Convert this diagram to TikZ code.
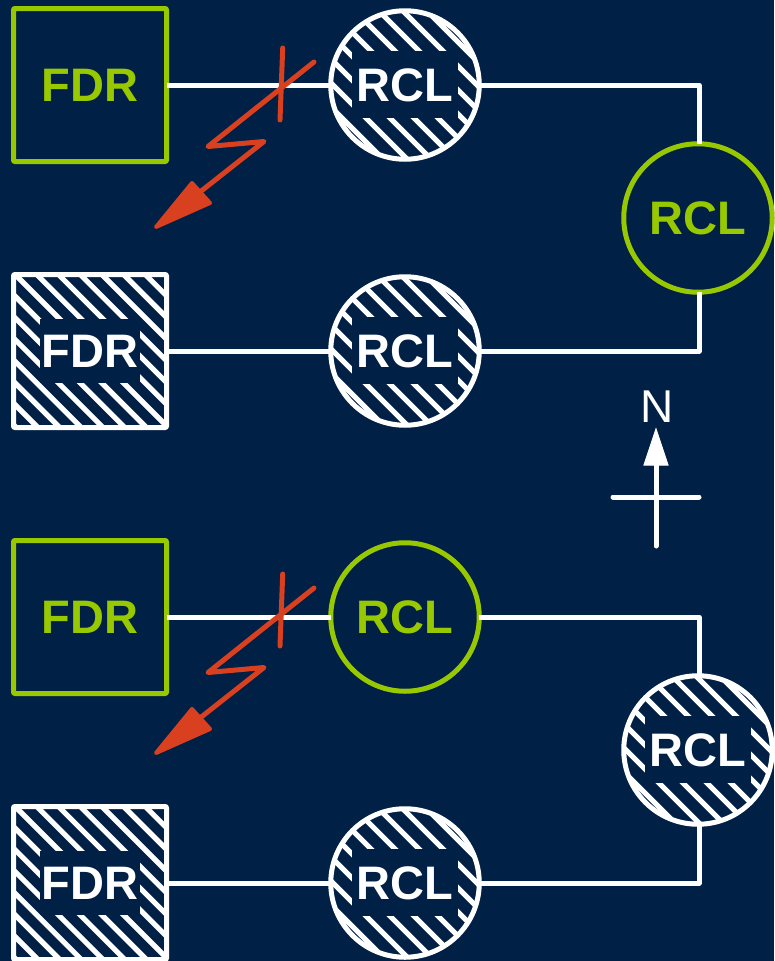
\documentclass[tikz,border=0pt]{standalone}
\usepackage{fontspec}
\setmainfont{Liberation Sans}
\definecolor{bgnavy}{HTML}{002045}
\definecolor{limeg}{HTML}{97C800}
\definecolor{boltred}{HTML}{D9401F}
\tikzset{
  x=1pt,y=-1pt,
  labelfont/.style={font=\fontsize{47}{47}\selectfont\bfseries},
  basenode/.style={line width=5pt,inner sep=0pt,outer sep=0pt,labelfont,line join=round},
  sqbox/.style={basenode,rectangle,rounded corners=1pt,minimum width=153pt,minimum height=153pt},
  circ/.style={basenode,circle,minimum size=148.5pt},
  greennode/.style={draw=limeg,text=limeg},
  hatchedge/.style={draw=white,text=white},
  stripe/.style={white,line width=5.2pt},
  wire/.style={white,line width=5pt,line join=round},
  bolt/.style={boltred,line width=5pt,line cap=round,line join=round},
  bolthead/.style={boltred,fill=boltred,line width=4pt,line join=round},
  northline/.style={white,line width=5pt,line cap=round},
  northhead/.style={white,fill=white,line width=1pt,line join=miter},
}
\newcommand{\sqhatch}[1]{%
  \begin{scope}[shift={(#1)}]
    \clip (-76.5,-76.5) rectangle (76.5,76.5);
    \foreach \k in {-8,...,8}{
      \draw[stripe] ({\k*21.7+1.6-120},-120) -- ({\k*21.7+1.6+120},120);}
    \fill[bgnavy] (-50,-32) rectangle (50,32);
  \end{scope}}
\newcommand{\cirhatch}[1]{%
  \begin{scope}[shift={(#1)}]
    \clip (0,0) circle (74.5);
    \foreach \k in {-7,...,7}{
      \draw[stripe] ({\k*24-120},-120) -- ({\k*24+120},120);}
    \fill[bgnavy] (-53,-34) rectangle (53,33);
  \end{scope}}
\begin{document}
\begin{tikzpicture}
\fill[bgnavy] (0,0) rectangle (774,961);
\useasboundingbox (0,0) rectangle (774,961);

% upper network
\coordinate (pr1) at (405,85);
\coordinate (pr3) at (405,351);
\coordinate (pf2) at (90,351);
\cirhatch{pr1}
\cirhatch{pr3}
\sqhatch{pf2}
\node[sqbox,greennode] (f1) at (90,85) {FDR};
\node[circ,hatchedge] (r1) at (pr1) {RCL};
\node[circ,greennode] (r2) at (698,218) {RCL};
\node[circ,hatchedge] (r3) at (pr3) {RCL};
\node[sqbox,hatchedge] (f2) at (pf2) {FDR};
\coordinate (c1) at (699,85);
\coordinate (c2) at (699,351);
\draw[wire] (f1.east) -- (r1.west);
\draw[wire] (r1.east) -- (c1) -- (c1 |- r2.north);
\draw[wire] (c2 |- r2.south) -- (c2) -- (r3.east);
\draw[wire] (f2.east) -- (r3.west);

% lower network
\coordinate (pr5) at (698,750);
\coordinate (pr6) at (405,883);
\coordinate (pf4) at (90,883);
\cirhatch{pr5}
\cirhatch{pr6}
\sqhatch{pf4}
\node[sqbox,greennode] (f3) at (90,617) {FDR};
\node[circ,greennode] (r4) at (405,617) {RCL};
\node[circ,hatchedge] (r5) at (pr5) {RCL};
\node[circ,hatchedge] (r6) at (pr6) {RCL};
\node[sqbox,hatchedge] (f4) at (pf4) {FDR};
\coordinate (c3) at (699,617);
\coordinate (c4) at (699,883);
\draw[wire] (f3.east) -- (r4.west);
\draw[wire] (r4.east) -- (c3) -- (c3 |- r5.north);
\draw[wire] (c4 |- r5.south) -- (c4) -- (r6.east);
\draw[wire] (f4.east) -- (r6.west);

% faults
\foreach \dy in {0,526}{
  \begin{scope}[yshift=-\dy pt]
    \draw[bolt] (282.7,48) -- (280,120);
    \draw[bolt] (314,62) -- (208,146.5) -- (264,141.5) -- (200,192);
    \filldraw[bolthead] (156,227) -- (192,183) -- (210,203) -- cycle;
  \end{scope}
}

% north arrow
\coordinate (ntop) at (656,465);
\coordinate (nbot) at (656,546);
\coordinate (wl) at (613,497);
\coordinate (wr) at (699,497);
\coordinate (ntip) at (656,429);
\draw[northline] (nbot) -- (ntop);
\draw[northline] (wl) -- (wr);
\filldraw[northhead] (ntip) -- (668,465) -- (644,465) -- cycle;
\node[font=\fontsize{46}{46}\selectfont,text=white,inner sep=0pt] (nlabel) at (657.5,407) {N};
\end{tikzpicture}
\end{document}
